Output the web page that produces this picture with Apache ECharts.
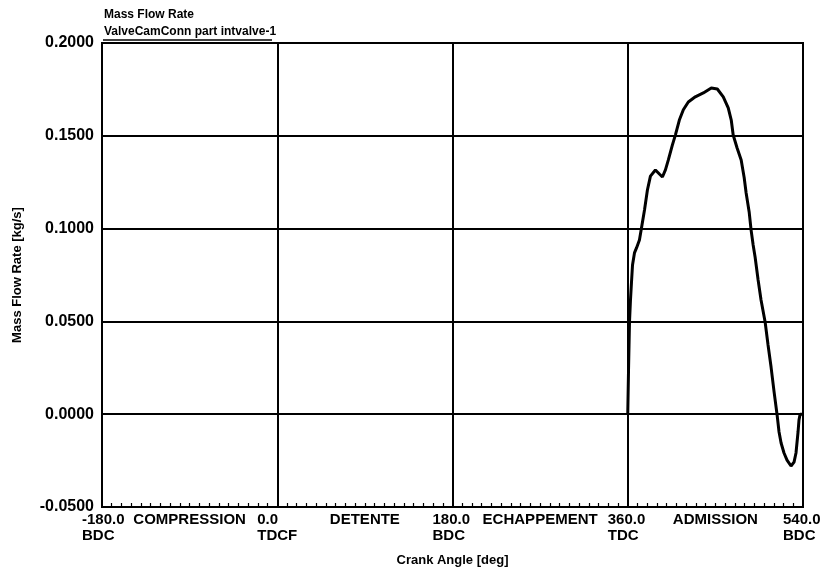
<!DOCTYPE html>
<html>
<head>
<meta charset="utf-8">
<script src="https://cdn.jsdelivr.net/npm/echarts@6/dist/echarts.min.js"></script>
<style>
html,body{margin:0;padding:0;background:#fff;}
#chart{width:826px;height:586px;}
</style>
</head>
<body>
<div id="chart"></div>
<script>
// Crank angle (deg) of the traced curve
const crankAngle = [360.0, 360.8, 361.8, 362.8, 363.8, 364.9, 366.9, 369.0, 372.0, 374.1, 377.2, 380.2, 383.3, 388.4, 392.5, 395.6, 398.7, 401.7, 405.8, 408.9, 413.0, 417.1, 422.2, 429.4, 437.6, 445.8, 452.0, 458.1, 463.2, 466.3, 468.3, 472.4, 476.5, 479.6, 481.6, 484.7, 486.7, 488.8, 490.8, 493.9, 496.9, 501.1, 504.1, 507.2, 510.3, 513.4, 515.4, 517.5, 520.5, 523.6, 527.7, 530.8, 532.8, 534.9, 535.9, 537.0, 540.0];
// Mass flow rate (kg/s)
const massFlow = [0.0000, 0.0238, 0.0497, 0.0615, 0.0707, 0.0804, 0.0869, 0.0896, 0.0939, 0.1003, 0.1100, 0.1208, 0.1283, 0.1316, 0.1294, 0.1278, 0.1316, 0.1370, 0.1450, 0.1504, 0.1585, 0.1640, 0.1682, 0.1710, 0.1731, 0.1758, 0.1752, 0.1710, 0.1650, 0.1585, 0.1504, 0.1433, 0.1370, 0.1274, 0.1192, 0.1090, 0.0992, 0.0912, 0.0847, 0.0723, 0.0615, 0.0497, 0.0373, 0.0254, 0.0120, -0.0004, -0.0096, -0.0155, -0.0209, -0.0247, -0.0279, -0.0258, -0.0209, -0.0096, -0.0031, 0.0000, 0.0000];
// Tick labels on the crank angle axis
const angleTicks = [-180, 0, 180, 360, 540];
const angleTickLines = [['-180.0', 'BDC'], ['0.0', 'TDCF'], ['180.0', 'BDC'], ['360.0', 'TDC'], ['540.0', 'BDC']];
const phaseCenters = [-90, 90, 270, 450];
const phaseNames = ['COMPRESSION', 'DETENTE', 'ECHAPPEMENT', 'ADMISSION'];
const yTicks = [-0.05, 0, 0.05, 0.1, 0.15, 0.2];

const FONT = 'Liberation Sans, Arial, sans-serif';
const lab = {color: '#000', fontFamily: FONT, fontSize: 15, fontWeight: 'bold'};
const ylab = {color: '#000', fontFamily: FONT, fontSize: 16, fontWeight: 'bold'};
const nm = {color: '#000', fontFamily: FONT, fontSize: 13, fontWeight: 'bold'};
const ttl = {color: '#000', fontFamily: FONT, fontSize: 12, fontWeight: 'bold'};

const chart = echarts.init(document.getElementById('chart'), null, {renderer: 'canvas'});
chart.setOption({
  backgroundColor: '#fff',
  animation: false,
  title: {
    left: 99, top: 4,
    text: 'Mass Flow Rate',
    subtext: 'ValveCamConn part intvalve-1',
    itemGap: 5,
    textStyle: ttl,
    subtextStyle: ttl
  },
  graphic: [{
    type: 'line',
    shape: {x1: 103, y1: 40, x2: 272, y2: 40},
    style: {stroke: '#000', lineWidth: 1.5},
    z: 10
  }],
  grid: {left: 102, right: 21, top: 43, bottom: 79, show: true, borderColor: '#000', borderWidth: 2},
  xAxis: [{
    type: 'value', min: angleTicks[0], max: angleTicks[angleTicks.length - 1], interval: 180,
    name: 'Crank Angle [deg]', nameLocation: 'middle', nameGap: 47,
    nameTextStyle: nm,
    axisLine: {show: true, onZero: false, lineStyle: {color: '#000', width: 2}},
    axisTick: {show: true, inside: true, length: 6, lineStyle: {color: '#000', width: 1.5}},
    minorTick: {show: true, splitNumber: 18, length: 4, lineStyle: {color: '#000', width: 1.2}},
    splitLine: {show: true, lineStyle: {color: '#000', width: 2}},
    axisLabel: {
      margin: 5,
      formatter: function (v) {
        const i = angleTicks.indexOf(v);
        if (i < 0) return '';
        return '{a|' + angleTickLines[i][0] + '}\n{a|' + angleTickLines[i][1] + '}';
      },
      rich: {a: Object.assign({}, lab, {width: 40, align: 'left', lineHeight: 16})},
      showMinLabel: true, showMaxLabel: true
    }
  }, {
    type: 'value', min: angleTicks[0], max: angleTicks[angleTicks.length - 1], interval: 90,
    position: 'bottom', offset: 0,
    axisLine: {show: false, onZero: false}, axisTick: {show: false}, splitLine: {show: false},
    axisLabel: {
      margin: 5,
      formatter: function (v) {
        const i = phaseCenters.indexOf(v);
        return i < 0 ? '' : '{b|' + phaseNames[i] + '}';
      },
      rich: {b: Object.assign({}, lab, {lineHeight: 16})}
    }
  }],
  yAxis: {
    type: 'value', min: yTicks[0], max: yTicks[yTicks.length - 1], interval: 0.05,
    name: 'Mass Flow Rate [kg/s]', nameLocation: 'middle', nameGap: 78,
    nameTextStyle: nm,
    axisLine: {show: true, onZero: false, lineStyle: {color: '#000', width: 2}},
    axisTick: {show: false},
    splitLine: {show: true, lineStyle: {color: '#000', width: 2}},
    axisLabel: Object.assign({}, ylab, {margin: 8, formatter: function (v) { return v.toFixed(4); }})
  },
  series: [{
    type: 'line', xAxisIndex: 0,
    name: 'ValveCamConn part intvalve-1',
    data: crankAngle.map((a, i) => [a, massFlow[i]]),
    showSymbol: false, symbol: 'none',
    lineStyle: {color: '#000', width: 3},
    z: 5
  }]
});
</script>
</body>
</html>
